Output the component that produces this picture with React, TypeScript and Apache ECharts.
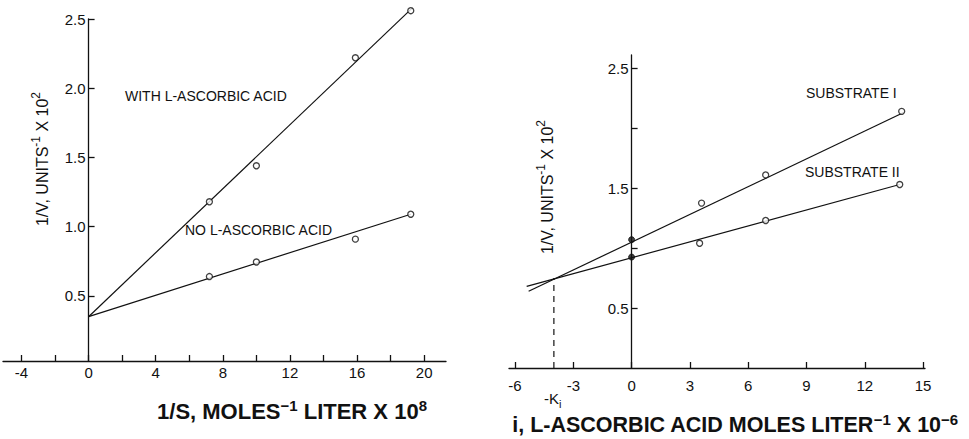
import React, { useEffect, useRef } from "react";
import * as echarts from "echarts";

// ---------- Left panel data ----------
const leftXTicks = [-4, -2, 0, 2, 4, 6, 8, 10, 12, 14, 16, 18, 20];
const leftXLabels = [-4, 0, 4, 8, 12, 16, 20];
const leftYTicks = [0.5, 1.0, 1.5, 2.0, 2.5];
const withAcidX = [7.2, 10.0, 15.9, 19.2];
const withAcidY = [1.18, 1.44, 2.22, 2.56];
const noAcidX = [7.2, 10.0, 15.9, 19.2];
const noAcidY = [0.64, 0.745, 0.91, 1.09];
const withAcidFitX = [0, 19.3];
const withAcidFitY = [0.35, 2.58];
const noAcidFitX = [0, 19.2];
const noAcidFitY = [0.35, 1.09];

// ---------- Right panel data ----------
const rightXTicks = [-6, -3, 0, 3, 6, 9, 12, 15];
const rightYTicks = [0.5, 1.0, 1.5, 2.0, 2.5];
const rightYLabels = [0.5, 1.5, 2.5];
const sub1X = [3.6, 6.9, 13.9];
const sub1Y = [1.375, 1.61, 2.14];
const sub2X = [3.5, 6.9, 13.8];
const sub2Y = [1.04, 1.23, 1.53];
const interceptX = [0, 0];
const interceptY = [1.07, 0.925];
const sub1FitX = [-5.3, 14.0];
const sub1FitY = [0.64, 2.13];
const sub2FitX = [-5.4, 13.8];
const sub2FitY = [0.68, 1.53];
const kiX = [-4, -4];
const kiY = [0, 0.75];

const zip = (xs: number[], ys: number[]) => xs.map((x, i) => [x, ys[i]]);

const FONT = "Liberation Sans, Arial, Helvetica, sans-serif";
const INK = "#111";

// grid geometry
const L = { left: 3, top: 19, width: 443, height: 342, xMin: -5.1, xMax: 21.3 };
const R = { left: 509, top: 55, width: 416, height: 313, xMin: -6.31, xMax: 15.1 };
const zeroOffset = (g: typeof L) => (-g.xMin / (g.xMax - g.xMin)) * g.width;

const richTitle = (size: number, supSize: number, raise: number, weight: string) => ({
  n: { fontSize: size, fontWeight: weight, fontFamily: FONT, fill: INK, verticalAlign: "bottom" },
  sup: {
    fontSize: supSize,
    fontWeight: weight,
    fontFamily: FONT,
    fill: INK,
    verticalAlign: "bottom",
    padding: [0, 0, raise, 0],
  },
});

export default function App() {
  const ref = useRef<HTMLDivElement>(null);
  useEffect(() => {
    if (!ref.current) return;
    const chart = echarts.init(ref.current, null, { renderer: "svg" });

    const axisCommon = {
      type: "value" as const,
      splitLine: { show: false },
      axisLine: { show: true, onZero: false, lineStyle: { color: INK, width: 1.3 } },
      axisTick: { show: true, inside: true, length: 6, lineStyle: { color: INK, width: 1.3 } },
      axisLabel: { color: INK, fontFamily: FONT, fontSize: 15 },
    };

    const openPoint = {
      type: "scatter" as const,
      symbol: "circle",
      symbolSize: 6,
      clip: false,
      itemStyle: { color: "#fff", borderColor: INK, borderWidth: 1.3 },
      z: 5,
    };
    const fitLine = {
      type: "line" as const,
      symbol: "none",
      clip: false,
      lineStyle: { color: INK, width: 1.2 },
      z: 3,
    };

    const plainText = (text: string, x: number, y: number, size = 14) => ({
      type: "text",
      x,
      y,
      style: { text, fill: INK, fontFamily: FONT, fontSize: size, textVerticalAlign: "middle" },
    });

    chart.setOption({
      animation: false,
      backgroundColor: "#fff",
      grid: [
        { left: L.left, top: L.top, width: L.width, height: L.height, outerBoundsMode: "none", containLabel: false },
        { left: R.left, top: R.top, width: R.width, height: R.height, outerBoundsMode: "none", containLabel: false },
      ],
      xAxis: [
        {
          ...axisCommon,
          gridIndex: 0,
          min: L.xMin,
          max: L.xMax,
          axisTick: { ...axisCommon.axisTick, customValues: leftXTicks },
          axisLabel: { ...axisCommon.axisLabel, customValues: leftXLabels, margin: 4 },
        },
        {
          ...axisCommon,
          gridIndex: 1,
          min: R.xMin,
          max: R.xMax,
          axisTick: { ...axisCommon.axisTick, customValues: rightXTicks },
          axisLabel: { ...axisCommon.axisLabel, customValues: rightXTicks, margin: 10 },
        },
      ],
      yAxis: [
        {
          ...axisCommon,
          gridIndex: 0,
          min: 0.03,
          max: 2.5,
          position: "left",
          offset: -zeroOffset(L),
          axisTick: { ...axisCommon.axisTick, customValues: leftYTicks },
          axisLabel: {
            ...axisCommon.axisLabel,
            customValues: leftYTicks,
            margin: 3,
            formatter: (v: number) => v.toFixed(1),
          },
        },
        {
          ...axisCommon,
          gridIndex: 1,
          min: 0,
          max: 2.61,
          position: "left",
          offset: -zeroOffset(R),
          axisTick: { ...axisCommon.axisTick, customValues: rightYTicks },
          axisLabel: {
            ...axisCommon.axisLabel,
            customValues: rightYLabels,
            margin: 3,
            formatter: (v: number) => v.toFixed(1),
          },
        },
      ],
      series: [
        { ...fitLine, xAxisIndex: 0, yAxisIndex: 0, data: zip(withAcidFitX, withAcidFitY) },
        { ...fitLine, xAxisIndex: 0, yAxisIndex: 0, data: zip(noAcidFitX, noAcidFitY) },
        { ...openPoint, xAxisIndex: 0, yAxisIndex: 0, data: zip(withAcidX, withAcidY) },
        { ...openPoint, xAxisIndex: 0, yAxisIndex: 0, data: zip(noAcidX, noAcidY) },

        { ...fitLine, xAxisIndex: 1, yAxisIndex: 1, data: zip(sub1FitX, sub1FitY) },
        { ...fitLine, xAxisIndex: 1, yAxisIndex: 1, data: zip(sub2FitX, sub2FitY) },
        { ...openPoint, xAxisIndex: 1, yAxisIndex: 1, data: zip(sub1X, sub1Y) },
        { ...openPoint, xAxisIndex: 1, yAxisIndex: 1, data: zip(sub2X, sub2Y) },
        {
          ...openPoint,
          xAxisIndex: 1,
          yAxisIndex: 1,
          itemStyle: { color: INK, borderColor: INK, borderWidth: 1 },
          data: zip(interceptX, interceptY),
        },
        {
          type: "line",
          xAxisIndex: 1,
          yAxisIndex: 1,
          symbol: "none",
          lineStyle: { color: INK, width: 1.2, type: [6, 5] },
          data: zip(kiX, kiY),
        },
      ],
      graphic: [
        plainText("WITH L-ASCORBIC ACID", 125, 96),
        plainText("NO L-ASCORBIC ACID", 185, 230),
        plainText("SUBSTRATE I", 806, 93),
        plainText("SUBSTRATE II", 805, 172),
        {
          type: "text",
          x: 40,
          y: 159,
          rotation: Math.PI / 2,
          style: {
            text: "{n|1/V, UNITS}{sup|-1}{n| X 10}{sup|2}",
            fill: INK,
            fontFamily: FONT,
            fontSize: 16,
            textAlign: "center",
            textVerticalAlign: "middle",
            rich: richTitle(16, 12, 8, "normal"),
          },
        },
        {
          type: "text",
          x: 545,
          y: 187,
          rotation: Math.PI / 2,
          style: {
            text: "{n|1/V, UNITS}{sup|-1}{n| X 10}{sup|2}",
            fill: INK,
            fontFamily: FONT,
            fontSize: 16,
            textAlign: "center",
            textVerticalAlign: "middle",
            rich: richTitle(16, 12, 8, "normal"),
          },
        },
        {
          type: "text",
          x: 292,
          y: 410,
          style: {
            text: "{n|1/S, MOLES}{sup|−1}{n| LITER X 10}{sup|8}",
            fill: INK,
            fontFamily: FONT,
            fontSize: 22,
            fontWeight: "bold",
            textAlign: "center",
            textVerticalAlign: "middle",
            rich: richTitle(22, 15, 9, "bold"),
          },
        },
        {
          type: "text",
          x: 735,
          y: 424,
          style: {
            text: "{n|i, L-ASCORBIC ACID MOLES LITER}{sup|−1}{n| X 10}{sup|−6}",
            fill: INK,
            fontFamily: FONT,
            fontSize: 21.5,
            fontWeight: "bold",
            textAlign: "center",
            textVerticalAlign: "middle",
            rich: richTitle(21.5, 15, 9, "bold"),
          },
        },
        {
          type: "text",
          x: 544,
          y: 398,
          style: { text: "-K", fill: INK, fontFamily: FONT, fontSize: 15, textVerticalAlign: "middle" },
        },
        {
          type: "text",
          x: 559,
          y: 404,
          style: { text: "i", fill: INK, fontFamily: FONT, fontSize: 11, textVerticalAlign: "middle" },
        },
      ],
    });
    return () => chart.dispose();
  }, []);
  return (
    <div
      ref={ref}
      style={{ position: "absolute", left: 0, top: 0, width: 969, height: 439, background: "#fff" }}
    />
  );
}
